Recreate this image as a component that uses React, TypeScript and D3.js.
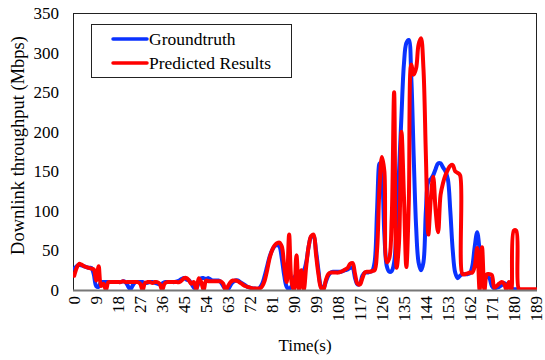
import { useEffect, useRef } from 'react'
import * as d3 from 'd3'

// seconds 0..189
const times: number[] = d3.range(190)

const groundtruth: number[] = [
  27, 30, 32, 31, 30, 29, 28, 28, 20, 5,
  4, 10, 10, 10, 10, 10, 10, 10, 10, 10,
  11, 10, 5, 1, 6, 10, 10, 10, 10, 9,
  9, 10, 10, 9, 8, 7, 8, 10, 10, 10,
  10, 10, 11, 12, 14, 15, 13, 12, 8, 3,
  2, 10, 15, 15, 14, 15, 13, 12, 12, 12,
  10, 5, 1, 1, 6, 10, 12, 12, 10, 8,
  6, 4, 3, 2, 2, 1, 3, 8, 18, 30,
  42, 50, 55, 57, 55, 40, 18, 4, 1, 5,
  15, 20, 22, 24, 25, 35, 55, 67, 68, 50,
  25, 5, 2, 10, 18, 22, 23, 23, 23, 23,
  24, 25, 26, 28, 28, 15, 7, 8, 18, 22,
  22, 23, 24, 35, 100, 160, 145, 70, 30, 23,
  24, 35, 80, 150, 220, 285, 312, 316, 270, 170,
  80, 35, 25, 35, 100, 137, 140, 145, 153, 160,
  160, 155, 150, 140, 100, 50, 22, 15, 18, 20,
  20, 20, 21, 30, 55, 73, 50, 18, 16, 17,
  15, 5, 2, 3, 4, 6, 9, 7, 4, 2,
  1, 1, 0, 0, 0, 0, 0, 0, 0, 0,
]

const predicted: number[] = [
  18, 28, 33, 32, 30, 29, 28, 27, 26, 12,
  30, 5, 8, 0, 10, 10, 10, 10, 10, 10,
  11, 10, 10, 10, 10, 10, 10, 8, 0, 9,
  10, 10, 9, 10, 10, 8, 0, 8, 10, 10,
  10, 10, 10, 10, 12, 15, 15, 12, 8, 10,
  0, 15, 10, 0, 12, 11, 11, 11, 11, 11,
  11, 8, 0, 5, 10, 12, 12, 11, 9, 7,
  5, 4, 3, 2, 2, 2, 2, 5, 12, 25,
  40, 50, 56, 59, 60, 55, 30, 10, 70, 10,
  0, 44, 0, 25, 0, 30, 55, 68, 70, 45,
  20, 3, 0, 12, 20, 22, 22, 22, 22, 23,
  24, 26, 28, 33, 34, 20, 8, 7, 15, 22,
  23, 23, 24, 25, 50, 130, 168, 150, 35, 40,
  90, 250, 28, 60, 200, 120, 29, 110, 285, 272,
  280, 310, 318, 280, 170, 70, 115, 143, 100, 73,
  120, 135, 145, 152, 157, 158, 150, 148, 145, 20,
  20, 21, 22, 22, 30, 53, 0, 54, 0, 20,
  20, 19, 3, 5, 8, 10, 8, 0, 10, 0,
  75, 75, 2, 1, 1, 1, 1, 1, 1, 1,
]

const yTicks: number[] = [0, 50, 100, 150, 200, 250, 300, 350]
const xTickLabels: number[] = [
  0, 9, 18, 27, 36, 45, 54, 63, 72, 81, 90,
  99, 108, 117, 126, 135, 144, 153, 162, 171, 180, 189,
]

const series = [
  { name: 'Groundtruth', values: groundtruth, color: '#0a32ff' },
  { name: 'Predicted Results', values: predicted, color: '#ff0000' },
]

const W = 545
const H = 360
const FONT = 'Liberation Serif, Times New Roman, serif'

export default function App() {
  const svgRef = useRef<SVGSVGElement>(null)

  useEffect(() => {
    const el = svgRef.current
    if (!el) return
    const left = 73
    const right = 537
    const top = 13
    const bottom = 290

    const x = d3
      .scalePoint<number>()
      .domain(times)
      .range([left, right])
      .padding(0.5)
    const y = d3.scaleLinear().domain([0, 350]).range([bottom, top])

    const svg = d3.select(el)
    svg.selectAll('*').remove()

    svg
      .append('defs')
      .append('clipPath')
      .attr('id', 'plot-clip')
      .append('rect')
      .attr('x', left)
      .attr('y', top)
      .attr('width', right - left)
      .attr('height', bottom - top)

    // frame
    svg
      .append('rect')
      .attr('x', left + 0.5)
      .attr('y', top + 0.5)
      .attr('width', right - left - 1)
      .attr('height', bottom - top)
      .attr('fill', 'none')
      .attr('stroke', '#222')
      .attr('stroke-width', 1)

    const line = d3
      .line<number>()
      .x((_, i) => x(times[i]) as number)
      .y((d) => y(d))
      .curve(d3.curveCatmullRom.alpha(0.5))

    const plot = svg.append('g').attr('clip-path', 'url(#plot-clip)')
    series.forEach((s) => {
      plot
        .append('path')
        .datum(s.values)
        .attr('d', line)
        .attr('fill', 'none')
        .attr('stroke', s.color)
        .attr('stroke-width', 4)
        .attr('stroke-linejoin', 'round')
        .attr('stroke-linecap', 'round')
    })

    // bottom axis line
    svg
      .append('line')
      .attr('x1', left)
      .attr('x2', right)
      .attr('y1', bottom + 0.5)
      .attr('y2', bottom + 0.5)
      .attr('stroke', '#777')
      .attr('stroke-width', 2)

    // y tick labels
    svg
      .append('g')
      .selectAll('text')
      .data(yTicks)
      .join('text')
      .attr('x', left - 14)
      .attr('y', (d) => y(d))
      .attr('dy', '0.35em')
      .attr('text-anchor', 'end')
      .attr('font-family', FONT)
      .attr('font-size', 17)
      .text((d) => d)

    // x tick labels, rotated
    svg
      .append('g')
      .selectAll('text')
      .data(xTickLabels)
      .join('text')
      .attr(
        'transform',
        (d) => `translate(${x(d)},${bottom + 6}) rotate(-90)`
      )
      .attr('dy', '0.35em')
      .attr('text-anchor', 'end')
      .attr('font-family', FONT)
      .attr('font-size', 17)
      .text((d) => d)

    // axis titles
    svg
      .append('text')
      .attr('x', (left + right) / 2)
      .attr('y', 351)
      .attr('text-anchor', 'middle')
      .attr('font-family', FONT)
      .attr('font-size', 17)
      .text('Time(s)')

    svg
      .append('text')
      .attr('transform', `translate(24,${(top + bottom) / 2 - 6}) rotate(-90)`)
      .attr('text-anchor', 'middle')
      .attr('font-family', FONT)
      .attr('font-size', 18.5)
      .text('Downlink throughput (Mbps)')

    // legend
    const lg = svg.append('g')
    lg.append('rect')
      .attr('x', 91.5)
      .attr('y', 24.5)
      .attr('width', 200)
      .attr('height', 53)
      .attr('fill', '#fff')
      .attr('stroke', '#222')
      .attr('stroke-width', 1)
    series.forEach((s, i) => {
      const ly = 39 + i * 24
      lg.append('line')
        .attr('x1', 113)
        .attr('x2', 147)
        .attr('y1', ly)
        .attr('y2', ly)
        .attr('stroke', s.color)
        .attr('stroke-width', 3.5)
        .attr('stroke-linecap', 'round')
      lg.append('text')
        .attr('x', 149)
        .attr('y', ly)
        .attr('dy', '0.33em')
        .attr('font-family', FONT)
        .attr('font-size', 17.5)
        .text(s.name)
    })
  }, [])

  return (
    <svg
      ref={svgRef}
      width={W}
      height={H}
      style={{ position: 'absolute', left: 0, top: 0, background: '#fff' }}
    />
  )
}
